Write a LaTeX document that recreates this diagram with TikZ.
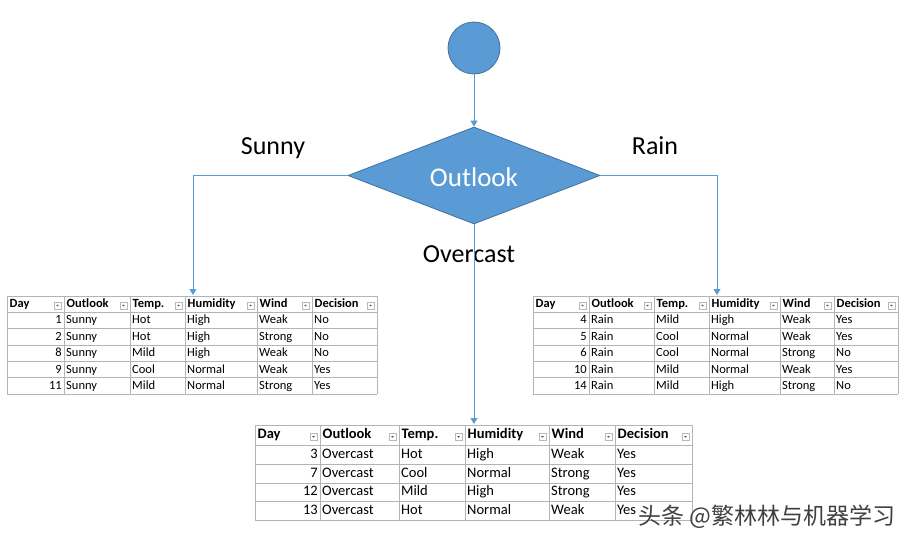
\documentclass[tikz,border=0pt]{standalone}
\usepackage{fontspec}
\setmainfont{Carlito}
\newfontfamily\cjk{Noto Sans CJK SC}
\usetikzlibrary{arrows.meta,shapes.geometric}
\definecolor{officeblue}{HTML}{5B9BD5}
\definecolor{officedark}{HTML}{41719C}
\definecolor{gridgray}{HTML}{B4B4B4}
\tikzset{
  startnode/.style={circle,fill=officeblue,draw=officedark,line width=0.8pt,minimum size=52pt,inner sep=0pt},
  decision/.style={diamond,fill=officeblue,draw=officedark,line width=0.8pt,minimum width=252pt,minimum height=97pt,inner sep=0pt,text=white,font=\fontsize{27}{27}\selectfont},
  flow/.style={draw=officeblue,line width=1pt,-{Triangle[width=7pt,length=6pt]}},
  branch/.style={font=\fontsize{26}{26}\selectfont,inner sep=0pt},
  gridline/.style={draw=gridgray,line width=0.6pt},
  txt/.style={inner sep=0pt,text height=0.72em,text depth=0.2em,yshift=-0.1em},
  hdr/.style={txt,anchor=west},
  cell/.style={txt,anchor=west},
  cellr/.style={txt,anchor=east},
  ddbox/.style={draw=gray!55,fill=white,line width=0.4pt,minimum size=7pt,inner sep=0pt},
  ddmark/.style={fill=black!65},
  watermark/.style={font=\cjk\fontsize{23}{23}\selectfont,text=black!75,inner sep=0pt,anchor=west}
}
% table geometry
\newcommand\tabcols[7]{\def\XA{#1}\def\XB{#2}\def\XC{#3}\def\XD{#4}\def\XE{#5}\def\XF{#6}\def\XG{#7}}
\newcommand\tabrows[4]{\def\TN{#1}\def\YT{#2}\def\HH{#3}\def\RH{#4}}
\newcommand\hcell[4]{%
  \node[hdr] (\TN-h#1) at ({#2+2.5},{\YT+\HH/2}) {\bfseries #4};
  \node[ddbox] (\TN-f#1) at ({#3-6.5},{\YT+\HH/2+1.5}) {};
  \fill[ddmark] (\TN-f#1.center) ++(-1.5,-0.6) -- ++(3,0) -- ++(-1.5,1.6) -- cycle;
}
\newcommand\theader[6]{%
  \hcell{1}{\XA}{\XB}{#1}\hcell{2}{\XB}{\XC}{#2}\hcell{3}{\XC}{\XD}{#3}%
  \hcell{4}{\XD}{\XE}{#4}\hcell{5}{\XE}{\XF}{#5}\hcell{6}{\XF}{\XG}{#6}%
}
\newcommand\drow[7]{%
  \pgfmathsetmacro\yc{\YT+\HH+(#1-0.5)*\RH}
  \node[cellr] (\TN-#1-1) at ({\XB-2},\yc) {#2};
  \node[cell] (\TN-#1-2) at ({\XB+2},\yc) {#3};
  \node[cell] (\TN-#1-3) at ({\XC+2},\yc) {#4};
  \node[cell] (\TN-#1-4) at ({\XD+2},\yc) {#5};
  \node[cell] (\TN-#1-5) at ({\XE+2},\yc) {#6};
  \node[cell] (\TN-#1-6) at ({\XF+2},\yc) {#7};
}
\newcommand\tgrid[1]{%
  \pgfmathsetmacro\yb{\YT+\HH+#1*\RH}
  \draw[gridline] (\XA,\YT) -- (\XG,\YT);
  \draw[gridline] (\XA,{\YT+\HH}) -- (\XG,{\YT+\HH});
  \foreach \k in {1,...,#1} {\draw[gridline] (\XA,{\YT+\HH+\k*\RH}) -- (\XG,{\YT+\HH+\k*\RH});}
  \foreach \xx in {\XA,\XB,\XC,\XD,\XE,\XF,\XG} {\draw[gridline] (\xx,\YT) -- (\xx,\yb);}
}
\begin{document}
\begin{tikzpicture}[x=1pt,y=-1pt]
\fill[white] (0,0) rectangle (914,543);
\useasboundingbox (0,0) rectangle (914,543);

% flow chart
\node[startnode] (start) at (474,48) {};
\node[decision] (dec) at (474,175.5) {};
\node[text=white,font=\fontsize{27}{27}\selectfont,inner sep=0pt] (declabel) at (474,177) {Outlook};
\node[branch] (lsunny) at (273,148) {Sunny};
\node[branch] (lrain) at (655,146) {Rain};
\node[branch] (lover) at (469,254) {Overcast};

\coordinate (Lin) at (193,295);
\coordinate (Rin) at (717,295);
\coordinate (Bin) at (474,424);
\draw[flow] (start) -- (dec);
\draw[flow] (dec.west) -| (Lin);
\draw[flow] (dec.east) -| (Rin);
\draw[flow] (dec.south) -- (Bin);

% left table (Sunny)
\begin{scope}[font=\fontsize{12.5}{12.5}\selectfont]
\tabcols{7}{64}{130}{185}{257}{312}{377}
\tabrows{L}{296}{16}{16.4}
\tgrid{5}
\theader{Day}{Outlook}{Temp.}{Humidity}{Wind}{Decision}
\drow{1}{1}{Sunny}{Hot}{High}{Weak}{No}
\drow{2}{2}{Sunny}{Hot}{High}{Strong}{No}
\drow{3}{8}{Sunny}{Mild}{High}{Weak}{No}
\drow{4}{9}{Sunny}{Cool}{Normal}{Weak}{Yes}
\drow{5}{11}{Sunny}{Mild}{Normal}{Strong}{Yes}
\end{scope}

% right table (Rain)
\begin{scope}[font=\fontsize{12.5}{12.5}\selectfont]
\tabcols{533}{589}{654}{709}{780}{834}{898}
\tabrows{R}{296}{16}{16.4}
\tgrid{5}
\theader{Day}{Outlook}{Temp.}{Humidity}{Wind}{Decision}
\drow{1}{4}{Rain}{Mild}{High}{Weak}{Yes}
\drow{2}{5}{Rain}{Cool}{Normal}{Weak}{Yes}
\drow{3}{6}{Rain}{Cool}{Normal}{Strong}{No}
\drow{4}{10}{Rain}{Mild}{Normal}{Weak}{Yes}
\drow{5}{14}{Rain}{Mild}{High}{Strong}{No}
\end{scope}

% bottom table (Overcast)
\begin{scope}[font=\fontsize{14.5}{14.5}\selectfont]
\tabcols{255}{320}{399}{465}{549}{615}{692}
\tabrows{B}{425}{20.5}{18.75}
\tgrid{4}
\theader{Day}{Outlook}{Temp.}{Humidity}{Wind}{Decision}
\drow{1}{3}{Overcast}{Hot}{High}{Weak}{Yes}
\drow{2}{7}{Overcast}{Cool}{Normal}{Strong}{Yes}
\drow{3}{12}{Overcast}{Mild}{High}{Strong}{Yes}
\drow{4}{13}{Overcast}{Hot}{Normal}{Weak}{Yes}
\end{scope}

\node[watermark] (wm) at (638,517) {头条 @繁林林与机器学习};
\end{tikzpicture}
\end{document}
